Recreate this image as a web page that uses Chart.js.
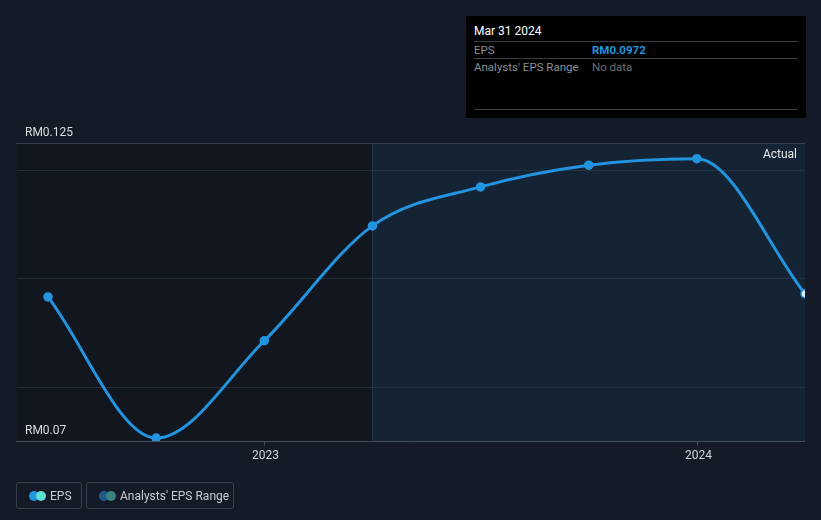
<!DOCTYPE html>
<html><head><meta charset="utf-8">
<script src="https://cdn.jsdelivr.net/npm/chart.js@4"></script>
<style>
html,body{margin:0;padding:0;background:#151b26;}
body{width:821px;height:520px;position:relative;overflow:hidden;font-family:Roboto,"Open Sans",sans-serif;}
#wrap{position:absolute;left:0;top:0;width:821px;height:520px;}
#tip{position:absolute;left:466px;top:16px;width:340px;height:102px;background:#000;}
#tip .t{position:absolute;left:8px;top:8px;color:#fff;font-size:12px;}
#tip .ln{position:absolute;left:8px;width:324px;height:1px;background:#3a3d42;}
#tip .k{position:absolute;left:8px;color:#8a8f96;font-size:11.5px;}
#tip .v{position:absolute;left:126px;font-size:11.5px;}
.leg{position:absolute;top:482px;height:27px;border:1px solid #3a4049;border-radius:3px;box-sizing:border-box;color:#c8ccd2;font-size:12px;}
.leg span.txt{position:absolute;top:6px;}
.dot{position:absolute;top:8px;width:10px;height:10px;border-radius:50%;}
</style></head>
<body>
<div id="wrap"><canvas id="c" width="821" height="520"></canvas></div>
<div id="tip">
  <div class="t">Mar 31 2024</div>
  <div class="ln" style="top:25px"></div>
  <div class="k" style="top:27px">EPS</div>
  <div class="v" style="top:27px;color:#2394df;font-weight:bold">RM0.0972</div>
  <div class="ln" style="top:42px"></div>
  <div class="k" style="top:44px">Analysts' EPS Range</div>
  <div class="v" style="top:44px;color:#6b7078">No data</div>
  <div class="ln" style="top:93px"></div>
</div>
<div class="leg" style="left:16px;width:66px;">
  <div class="dot" style="left:12px;background:#2394df"></div>
  <div class="dot" style="left:19px;background:#5ce0d0"></div>
  <span class="txt" style="left:33px">EPS</span>
</div>
<div class="leg" style="left:86px;width:148px;">
  <div class="dot" style="left:12px;background:#1d5b8c"></div>
  <div class="dot" style="left:19px;background:#3b8282"></div>
  <span class="txt" style="left:33px">Analysts' EPS Range</span>
</div>
<script>
// months since Jan 2022 (quarter ends)
const periods = [6, 9, 12, 15, 18, 21, 24, 27];
const periodLabels = ["Jun 30 2022","Sep 30 2022","Dec 31 2022","Mar 31 2023","Jun 30 2023","Sep 30 2023","Dec 31 2023","Mar 31 2024"];
const eps = [0.0966, 0.07055, 0.0885, 0.1097, 0.1169, 0.1209, 0.1221, 0.0972];
const xTickValues = [12, 24];
const xTickLabels = ["2023", "2024"];
const yGridValues = [0.08, 0.1, 0.12];
const yLabelValues = [0.125, 0.07];
const yLabelTexts = ["RM0.125", "RM0.07"];
const actualStart = 15;

const deco = {
  id: 'deco',
  beforeDatasetsDraw(chart) {
    const {ctx, chartArea: a, scales: {x, y}} = chart;
    ctx.save();
    const xs = Math.round(x.getPixelForValue(actualStart));
    ctx.fillStyle = '#12161e';
    ctx.fillRect(a.left, a.top, xs - a.left, a.bottom - a.top);
    ctx.fillStyle = '#152435';
    ctx.fillRect(xs, a.top, a.right - xs, a.bottom - a.top);
    ctx.fillStyle = '#1f3247';
    ctx.fillRect(xs, a.top, 1, a.bottom - a.top);
    // grid
    yGridValues.forEach(v => {
      const py = Math.round(y.getPixelForValue(v)) + 0.5;
      ctx.strokeStyle = '#252c36';
      ctx.lineWidth = 1;
      ctx.beginPath(); ctx.moveTo(a.left, py); ctx.lineTo(xs, py); ctx.stroke();
      ctx.strokeStyle = '#223346';
      ctx.beginPath(); ctx.moveTo(xs, py); ctx.lineTo(a.right, py); ctx.stroke();
    });
    // top line
    let pt = Math.round(y.getPixelForValue(yLabelValues[0])) + 0.5;
    ctx.strokeStyle = '#3a4049';
    ctx.beginPath(); ctx.moveTo(a.left - 1, pt); ctx.lineTo(a.right, pt); ctx.stroke();
    // bottom line
    let pb = Math.round(y.getPixelForValue(yLabelValues[1])) + 0.5;
    ctx.strokeStyle = '#474d55';
    ctx.beginPath(); ctx.moveTo(a.left - 1, pb); ctx.lineTo(a.right, pb); ctx.stroke();
    // x ticks
    ctx.fillStyle = '#d0d3d8';
    ctx.font = '12px Roboto';
    ctx.textAlign = 'center';
    ctx.textBaseline = 'top';
    xTickValues.forEach((v, i) => {
      const px = Math.round(x.getPixelForValue(v)) + 0.5;
      ctx.strokeStyle = '#474d55';
      ctx.beginPath(); ctx.moveTo(px, pb); ctx.lineTo(px, pb + 4); ctx.stroke();
      ctx.fillText(xTickLabels[i], px + 1, pb + 8);
    });
    // y labels
    ctx.textAlign = 'left';
    ctx.textBaseline = 'bottom';
    ctx.fillStyle = '#d8dbe0';
    yLabelValues.forEach((v, i) => {
      const py = y.getPixelForValue(v);
      ctx.fillText(yLabelTexts[i], 25, py - 4);
    });
    // Actual label
    ctx.textAlign = 'right';
    ctx.textBaseline = 'top';
    ctx.fillStyle = '#e6e8eb';
    ctx.fillText('Actual', a.right - 8, a.top + 6);
    ctx.restore();
  }
};

new Chart(document.getElementById('c'), {
  type: 'line',
  data: {
    datasets: [{
      label: 'EPS',
      data: periods.map((p, i) => ({x: p, y: eps[i]})),
      borderColor: '#2394df',
      borderWidth: 3,
      cubicInterpolationMode: 'monotone',
      pointRadius: 4,
      pointBorderWidth: 1.5,
      pointBackgroundColor: eps.map((v, i) => i === eps.length - 1 ? '#dff0fb' : '#2394df'),
      pointBorderColor: '#2394df',
      clip: 0
    }]
  },
  options: {
    responsive: false,
    animation: false,
    devicePixelRatio: 1,
    layout: {padding: {left: 17, right: 16, top: 143, bottom: 79}},
    plugins: {legend: {display: false}, tooltip: {enabled: false}},
    scales: {
      x: {type: 'linear', min: 5.14, max: 27, display: false},
      y: {type: 'linear', min: 0.07, max: 0.125, display: false}
    }
  },
  plugins: [deco]
});
</script>
</body></html>
